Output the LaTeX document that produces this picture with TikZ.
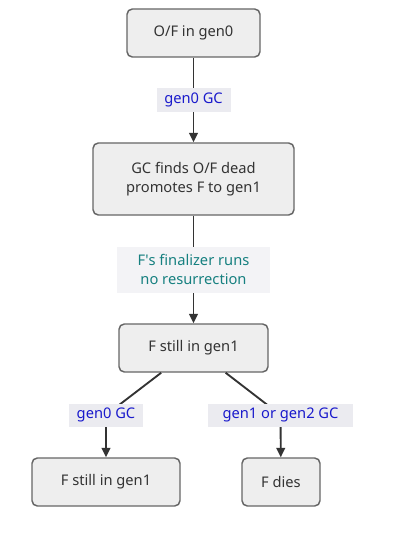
\documentclass[tikz,border=0pt]{standalone}
\usepackage{fontspec}
\setmainfont{Noto Sans}
\usetikzlibrary{arrows.meta, positioning}
\definecolor{cfill}{HTML}{EEEEEE}
\definecolor{cline}{HTML}{666666}
\definecolor{cedge}{HTML}{333333}
\definecolor{cblue}{HTML}{1A1ACC}
\definecolor{cteal}{HTML}{168080}
\definecolor{clab}{HTML}{EBEBF0}
\tikzset{
  every picture/.style={font=\fontsize{11}{14.5}\selectfont, line width=1.1pt},
  box/.style={draw=cline, fill=cfill, rounded corners=4pt, align=center, text=cedge, minimum height=36pt, inner sep=0pt},
  arrow/.style={-{Triangle[length=7pt, width=6.5pt]}, draw=cedge, line width=1.4pt},
  lab/.style={fill=clab, text=#1, align=center, inner sep=0pt, minimum height=18pt},
  lab/.default=cblue,
}

\begin{document}
\begin{tikzpicture}[x=0.75pt, y=-0.75pt]
  \useasboundingbox (0,0) rectangle (409,538);
  % states
  \node[box, minimum width=99.75pt] (gen0) at (193.5,33) {O/F in gen0};
  \node[box, minimum width=150.75pt, minimum height=54pt] (found) at (193.5,179) {GC finds O/F dead\\promotes F to gen1};
  \node[box, minimum width=111.75pt] (still) at (193.5,348) {F still in gen1};
  \node[box, minimum width=111pt] (stay) at (106,482) {F still in gen1};
  \node[box, minimum width=58.5pt] (dies) at (281,482) {F dies};
  % edges
  \coordinate (young) at (106,415);
  \coordinate (old) at (280.5,415);
  \draw[arrow] (gen0) -- node[lab, minimum width=55.5pt] (gcone) {gen0 GC} (found);
  \draw[arrow] (found) -- node[lab=cteal, minimum width=115pt, minimum height=34.5pt, fill=clab!60!white] (final) {F\textquotesingle s finalizer runs\\no resurrection} (still);
  \draw[arrow] (still) -- (young) -- (stay);
  \draw[arrow] (still) -- (old) -- (dies);
  \node[lab, minimum width=55.5pt, minimum height=17.25pt] (gctwo) at (young) {gen0 GC};
  \node[lab, minimum width=108.75pt, minimum height=17.25pt] (gcold) at (old) {gen1 or gen2 GC};
\end{tikzpicture}
\end{document}
